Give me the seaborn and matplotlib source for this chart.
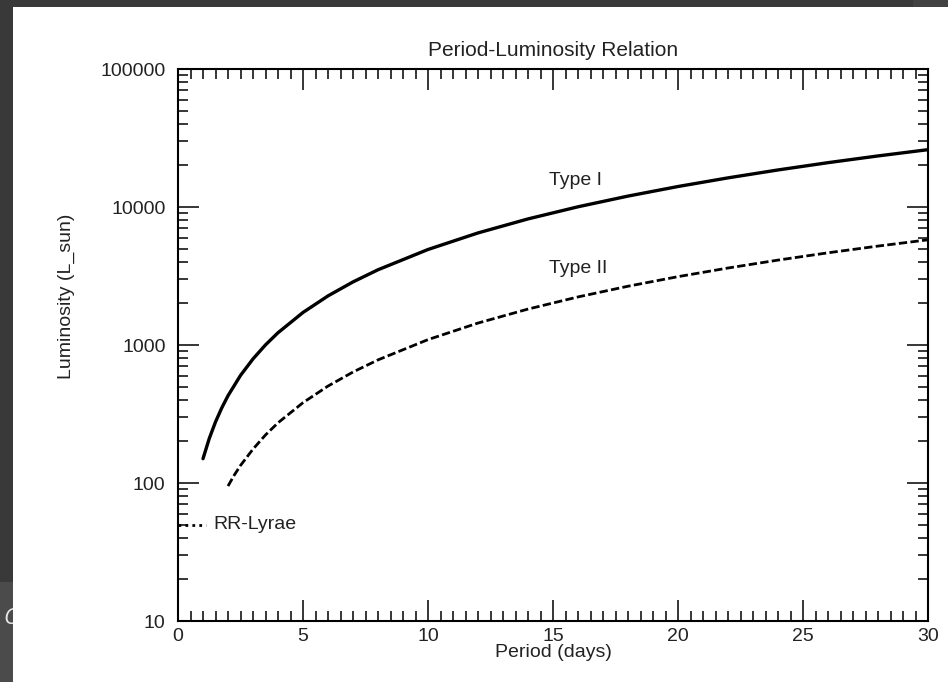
import matplotlib
matplotlib.use("Agg")
import matplotlib.pyplot as plt
import seaborn as sns
from matplotlib.patches import Rectangle
from matplotlib.ticker import FixedLocator, FixedFormatter, MultipleLocator, LogLocator, NullFormatter

# Period-luminosity curves for Cepheid variables (period in days, luminosity in L_sun)
period_type1 = [1, 1.25, 1.5, 1.75, 2, 2.5, 3, 3.5, 4, 5, 6, 7, 8, 10, 12, 14, 16, 18, 20,
                22, 24, 26, 28, 30]
lum_type1 = [150, 210, 277, 350, 429, 602, 793, 1002, 1227, 1721, 2269, 2865, 3509, 4921,
             6488, 8196, 10035, 11997, 14075, 16260, 18555, 20955, 23445, 26030]

period_type2 = [2, 2.25, 2.5, 3, 3.5, 4, 5, 6, 7, 8, 10, 12, 14, 16, 18, 20, 22, 24, 26, 28, 30]
lum_type2 = [95, 114, 134, 176, 223, 273, 382, 504, 637, 780, 1094, 1442, 1821, 2230,
             2666, 3128, 3613, 4123, 4657, 5210, 5785]

period_rr = [0, 1.1]
lum_rr = [50, 50]

x_ticks = [0, 5, 10, 15, 20, 25, 30]
x_tick_labels = ["0", "5", "10", "15", "20", "25", "30"]
y_ticks = [10, 100, 1000, 10000, 100000]
y_tick_labels = ["10", "100", "1000", "10000", "100000"]

curve_labels = ["Type I", "Type II", "RR-Lyrae"]

sns.set_style("ticks")
plt.rcParams["font.family"] = ["Liberation Sans", "DejaVu Sans"]

W, H = 948, 682
fig = plt.figure(figsize=(W / 100, H / 100), dpi=100)
fig.patch.set_facecolor("#393939")

# window frame behind the plot panel
fig.patches.append(Rectangle((0, 0), 13 / W, (H - 582) / H, transform=fig.transFigure,
                             facecolor="#4b4b4b", edgecolor="none", zorder=0.2))
fig.text(3 / W, 1 - 618 / H, "C", fontsize=16, color="#e6e6e6", style="italic",
         family=["Open Sans", "DejaVu Sans"], va="center", ha="left", zorder=0.3)
fig.patches.append(Rectangle((913 / W, 1 - 7 / H), 35 / W, 7 / H, transform=fig.transFigure,
                             facecolor="#424242", edgecolor="none", zorder=0.2))
fig.patches.append(Rectangle((13 / W, 0), 1, (H - 7) / H, transform=fig.transFigure,
                             facecolor="white", edgecolor="none", zorder=0.5))

ax = fig.add_axes([178 / W, 1 - 621 / H, 750 / W, 552 / H])
ax.set_zorder(1)
ax.set_facecolor("white")

sns.lineplot(x=period_type1, y=lum_type1, ax=ax, color="black", linewidth=2.4,
             estimator=None, sort=False)
sns.lineplot(x=period_type2, y=lum_type2, ax=ax, color="black", linewidth=2.0,
             linestyle=(0, (3.0, 1.2)), estimator=None, sort=False)
sns.lineplot(x=period_rr, y=lum_rr, ax=ax, color="black", linewidth=2.0,
             linestyle=(0, (1.0, 1.5)), estimator=None, sort=False)

ax.set_yscale("log")
ax.set_xlim(0, 30)
ax.set_ylim(10, 100000)

txt = dict(fontsize=14, color="#222222", va="center")
ax.text(15.9, 15500, curve_labels[0], ha="center", **txt)
ax.text(16.0, 3590, curve_labels[1], ha="center", **txt)
ax.text(1.4, 50, curve_labels[2], ha="left", **txt)

ax.xaxis.set_major_locator(FixedLocator(x_ticks))
ax.xaxis.set_major_formatter(FixedFormatter(x_tick_labels))
ax.xaxis.set_minor_locator(MultipleLocator(0.5))
ax.yaxis.set_major_locator(FixedLocator(y_ticks))
ax.yaxis.set_major_formatter(FixedFormatter(y_tick_labels))
ax.yaxis.set_minor_locator(LogLocator(base=10, subs=range(2, 10)))
ax.yaxis.set_minor_formatter(NullFormatter())

for s in ax.spines.values():
    s.set_visible(True)
    s.set_linewidth(1.5)
    s.set_color("black")

ax.tick_params(which="both", direction="in", top=True, right=True, colors="black",
               labelcolor="#222222", labelsize=14)
ax.tick_params(which="major", length=15, width=1.1)
ax.tick_params(which="minor", length=7.5, width=1.1)
ax.tick_params(axis="x", which="major", pad=5)
ax.tick_params(axis="y", which="major", pad=9)

ax.set_title("Period-Luminosity Relation", fontsize=15, color="#222222", pad=9)
ax.set_xlabel("Period (days)", fontsize=14, color="#222222", labelpad=-1)
ax.set_ylabel("Luminosity (L_sun)", fontsize=14, color="#222222")
ax.yaxis.set_label_coords(-0.137, 0.589)
ax.grid(False)

fig.savefig("out.png", dpi=100, facecolor=fig.get_facecolor())
